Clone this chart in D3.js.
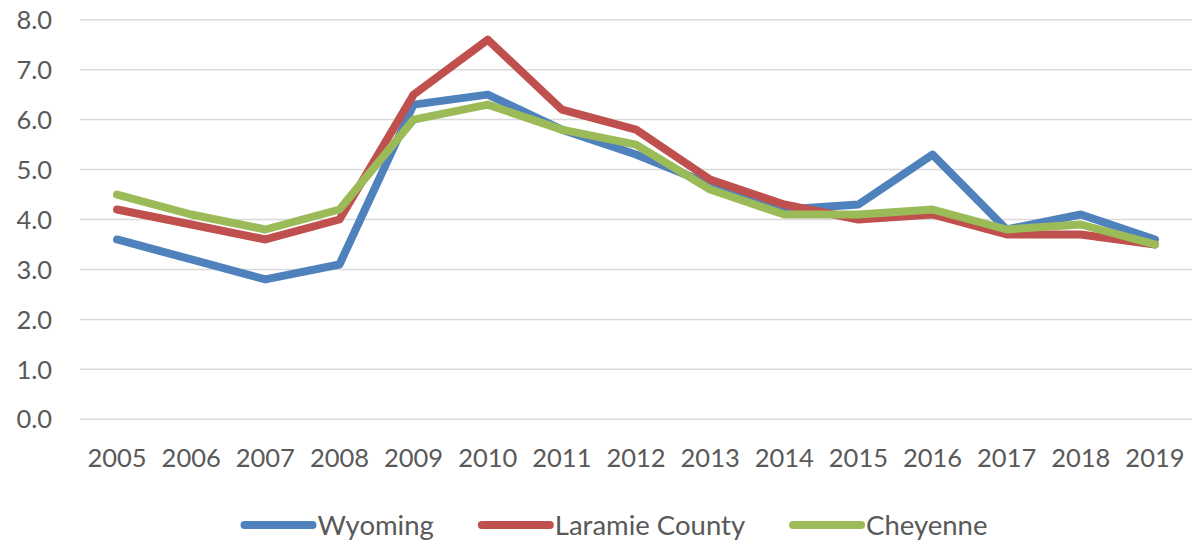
<!DOCTYPE html>
<html>
<head>
<meta charset="utf-8">
<script src="https://cdn.jsdelivr.net/npm/d3@7"></script>
<style>
    html, body { margin: 0; padding: 0; background: #fff; }
    svg { display: block; font-family: Lato, "Liberation Sans", sans-serif; }
    .tick-label { fill: #595959; font-size: 25.5px; }
    .legend-label { fill: #595959; font-size: 27.5px; }
</style>
</head>
<body>
<script>
// Chart data
const years = ["2005", "2006", "2007", "2008", "2009", "2010", "2011", "2012",
               "2013", "2014", "2015", "2016", "2017", "2018", "2019"];
const wyoming  = [3.6, 3.2, 2.8, 3.1, 6.3, 6.5, 5.8, 5.3, 4.7, 4.2, 4.3, 5.3, 3.8, 4.1, 3.6];
const laramie  = [4.2, 3.9, 3.6, 4.0, 6.5, 7.6, 6.2, 5.8, 4.8, 4.3, 4.0, 4.1, 3.7, 3.7, 3.5];
const cheyenne = [4.5, 4.1, 3.8, 4.2, 6.0, 6.3, 5.8, 5.5, 4.6, 4.1, 4.1, 4.2, 3.8, 3.9, 3.5];
const yTicks = [0, 1, 2, 3, 4, 5, 6, 7, 8];

const seriesNames = ["Wyoming", "Laramie County", "Cheyenne"];
const seriesValues = [wyoming, laramie, cheyenne];
const seriesColors = ["#4F81BD", "#C0504D", "#9BBB59"];

const WIDTH = 1198, HEIGHT = 545;
const plot = { left: 80, right: 1192, top: 19.7, bottom: 419.3 };

const svg = d3.select("body").append("svg")
    .attr("width", WIDTH)
    .attr("height", HEIGHT);

const x = d3.scaleBand()
    .domain(years)
    .range([plot.left, plot.right]);

const y = d3.scaleLinear()
    .domain([0, 8])
    .range([plot.bottom, plot.top]);

// Gridlines
svg.append("g")
    .selectAll("line")
    .data(yTicks)
    .join("line")
    .attr("x1", plot.left)
    .attr("x2", plot.right)
    .attr("y1", d => y(d))
    .attr("y2", d => y(d))
    .attr("stroke", "#D9D9D9")
    .attr("stroke-width", 1.5);

// Y labels
svg.append("g")
    .selectAll("text")
    .data(yTicks)
    .join("text")
    .attr("class", "tick-label")
    .attr("x", 52)
    .attr("y", d => y(d))
    .attr("dy", "0.36em")
    .attr("text-anchor", "end")
    .text(d => d.toFixed(1));

// X labels
svg.append("g")
    .selectAll("text")
    .data(years)
    .join("text")
    .attr("class", "tick-label")
    .attr("x", d => x(d) + x.bandwidth() / 2)
    .attr("y", 467)
    .attr("text-anchor", "middle")
    .text(d => d);

// Lines
const line = d3.line()
    .x((d, i) => x(years[i]) + x.bandwidth() / 2)
    .y(d => y(d));

svg.append("g")
    .selectAll("path")
    .data(seriesValues)
    .join("path")
    .attr("d", line)
    .attr("fill", "none")
    .attr("stroke", (d, i) => seriesColors[i])
    .attr("stroke-width", 8)
    .attr("stroke-linejoin", "round")
    .attr("stroke-linecap", "round");

// Legend
const legend = svg.append("g");
const swatch = 70, gap = 5, spacing = 46;
let cursor = 0;
seriesNames.forEach((name, i) => {
    const item = legend.append("g").attr("transform", `translate(${cursor},0)`);
    item.append("line")
        .attr("x1", 2).attr("x2", swatch)
        .attr("y1", 0).attr("y2", 0)
        .attr("stroke", seriesColors[i])
        .attr("stroke-width", 8)
        .attr("stroke-linecap", "round");
    const label = item.append("text")
        .attr("class", "legend-label")
        .attr("x", swatch + gap)
        .attr("dy", "0.36em")
        .text(name);
    cursor += swatch + gap + label.node().getComputedTextLength() + spacing;
});
const legendWidth = cursor - spacing;
legend.attr("transform", `translate(${615 - legendWidth / 2},525)`);
</script>
</body>
</html>
